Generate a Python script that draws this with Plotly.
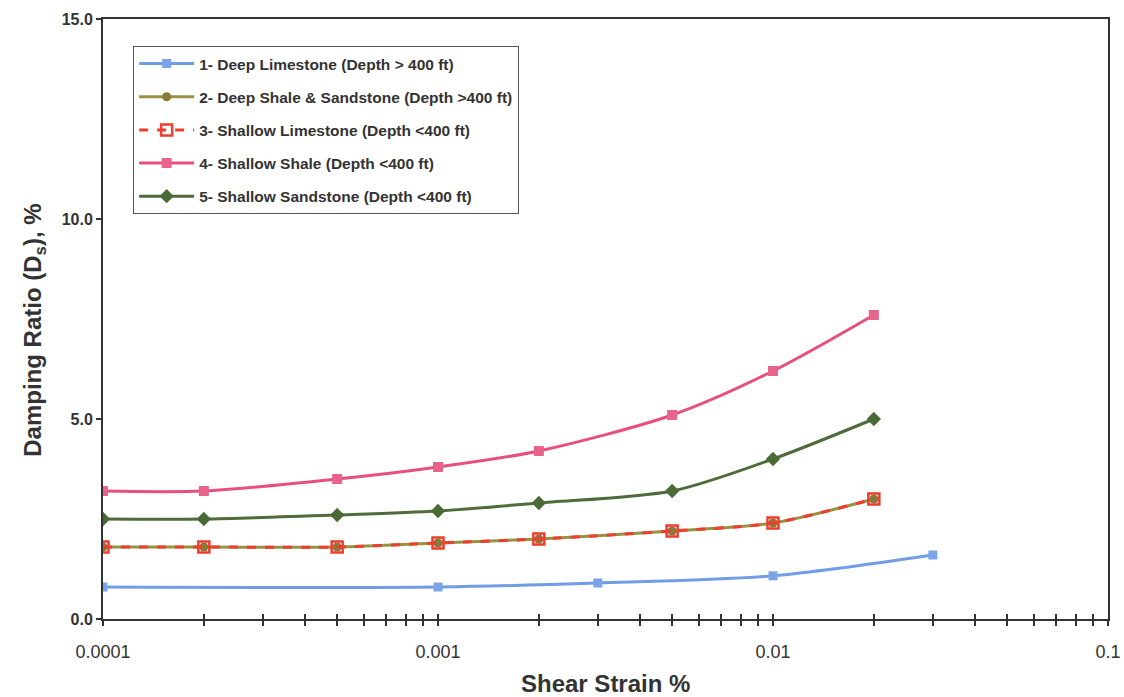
import plotly.graph_objects as go

# Data
x1 = [0.0001, 0.001, 0.003, 0.01, 0.03]
y1 = [0.8, 0.8, 0.9, 1.08, 1.6]

x_std = [0.0001, 0.0002, 0.0005, 0.001, 0.002, 0.005, 0.01, 0.02]
y2 = [1.8, 1.8, 1.8, 1.9, 2.0, 2.2, 2.4, 3.0]
y3 = [1.8, 1.8, 1.8, 1.9, 2.0, 2.2, 2.4, 3.0]
y4 = [3.2, 3.2, 3.5, 3.8, 4.2, 5.1, 6.2, 7.6]
y5 = [2.5, 2.5, 2.6, 2.7, 2.9, 3.2, 4.0, 5.0]

names = [
    "1- Deep Limestone (Depth > 400 ft)",
    "2- Deep Shale & Sandstone (Depth >400 ft)",
    "3- Shallow Limestone (Depth <400 ft)",
    "4- Shallow Shale (Depth <400 ft)",
    "5- Shallow Sandstone (Depth <400 ft)",
]

major_ticks = [0.0001, 0.001, 0.01, 0.1]
major_labels = ["0.0001", "0.001", "0.01", "0.1"]
y_ticks = [0, 5, 10, 15]

# minor tick positions (2..9 in each decade)
minor_ticks = [dec * m for dec in major_ticks[:-1] for m in range(2, 10)]
all_ticks = sorted(major_ticks + minor_ticks)

fig = go.Figure()

fig.add_trace(go.Scatter(
    x=x1, y=y1, name=names[0], mode="lines+markers", legendgroup="g1",
    line=dict(color="#6f9de6", width=3, shape="spline", smoothing=0.8),
    marker=dict(symbol="square", size=9, color="#7aa3e8"),
))
fig.add_trace(go.Scatter(
    x=x_std, y=y2, name=names[1], mode="lines+markers", legendgroup="g2",
    line=dict(color="#9a9040", width=3, shape="spline", smoothing=0.8),
    marker=dict(symbol="circle", size=9, color="#8a7a3a"),
))
fig.add_trace(go.Scatter(
    x=x_std, y=y3, name=names[2], mode="lines+markers", legendgroup="g3",
    line=dict(color="#f03c2e", width=3, dash="dash", shape="spline", smoothing=0.8),
    marker=dict(symbol="square-open", size=11, color="#f03c2e", line=dict(width=2.5)),
))
fig.add_trace(go.Scatter(
    x=x_std, y=y4, name=names[3], mode="lines+markers", legendgroup="g4",
    line=dict(color="#e8507c", width=3, shape="spline", smoothing=0.8),
    marker=dict(symbol="square", size=10, color="#e8648c"),
))
fig.add_trace(go.Scatter(
    x=x_std, y=y5, name=names[4], mode="lines+markers", legendgroup="g5",
    line=dict(color="#4f6b3a", width=3, shape="spline", smoothing=0.8),
    marker=dict(symbol="diamond", size=11, color="#4a6a35"),
))

# invisible trace on overlay axis so it is rendered
fig.add_trace(go.Scatter(x=[0.001], y=[0], xaxis="x2", mode="markers",
                         marker=dict(opacity=0), showlegend=False, hoverinfo="skip"))

axis_color = "#333333"
font_family = "Liberation Sans, Arial, sans-serif"
fig.update_layout(
    width=1124, height=697,
    margin=dict(l=103, r=16, t=19, b=78),
    paper_bgcolor="white", plot_bgcolor="white",
    font=dict(family=font_family, color="#333333"),
    showlegend=True,
    legend=dict(
        x=0.03, y=0.955, xanchor="left", yanchor="top",
        bgcolor="white", bordercolor="#555555", borderwidth=1,
        font=dict(size=15.5, color="#333333", family=font_family, weight="bold"),
        tracegroupgap=10, itemwidth=55,
    ),
    xaxis=dict(
        type="log", range=[-4, -1], automargin=False,
        tickvals=major_ticks, ticktext=major_labels,
        ticks="outside", ticklen=5, tickwidth=1.5, tickcolor=axis_color,
        minor=dict(tickvals=minor_ticks, ticks="outside", ticklen=5,
                   tickwidth=1.5, tickcolor=axis_color, showgrid=False),
        showline=True, linecolor=axis_color, linewidth=2, mirror=True,
        showgrid=False, zeroline=False, ticklabelstandoff=10,
        tickfont=dict(size=18, color="#333333"),
    ),
    xaxis2=dict(
        type="log", range=[-4, -1], overlaying="x", anchor="y",
        tickvals=all_ticks, showticklabels=False,
        ticks="inside", ticklen=5, tickwidth=1.5, tickcolor=axis_color,
        showline=False, showgrid=False, zeroline=False,
    ),
    yaxis=dict(
        range=[0, 15], tickvals=y_ticks, tickformat=".1f", automargin=False,
        ticks="outside", ticklen=5, tickwidth=1.5, tickcolor=axis_color,
        showline=True, linecolor=axis_color, linewidth=2, mirror=True,
        showgrid=False, zeroline=False,
        tickfont=dict(size=16, color="#333333", weight="bold"),
    ),
    annotations=[
        dict(text="<b>Shear Strain %</b>", xref="paper", yref="paper",
             x=0.5, y=-0.107, xanchor="center", yanchor="middle", showarrow=False,
             font=dict(size=24, color="#333333", family=font_family)),
        dict(text="<b>Damping Ratio (D<sub>s</sub>), %</b>", xref="paper", yref="paper",
             x=-0.0677, y=0.482, xanchor="center", yanchor="middle", showarrow=False,
             textangle=-90, font=dict(size=24, color="#333333", family=font_family)),
    ],
)

fig.write_html("out.html")
